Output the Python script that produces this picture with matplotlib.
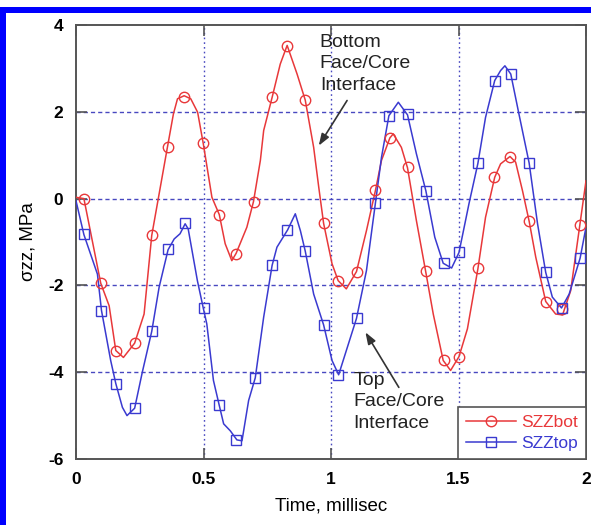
import matplotlib
matplotlib.use("Agg")
import matplotlib.pyplot as plt
from matplotlib.patches import Rectangle

plt.rcParams['font.family'] = ['Liberation Sans', 'DejaVu Sans']

# ---- data ----
# SZZbot curve (time in ms, stress in MPa)
t_bot = [0.000, 0.031, 0.097, 0.130, 0.156, 0.186, 0.230, 0.267, 0.297, 0.326,
         0.359, 0.382, 0.398, 0.424, 0.450, 0.477, 0.499, 0.533, 0.562, 0.585,
         0.611, 0.628, 0.670, 0.696, 0.723, 0.736, 0.769, 0.801, 0.828, 0.867,
         0.899, 0.932, 0.952, 0.971, 1.004, 1.028, 1.060, 1.100, 1.139, 1.174,
         1.198, 1.231, 1.244, 1.276, 1.300, 1.335, 1.371, 1.401, 1.440, 1.469,
         1.502, 1.535, 1.576, 1.606, 1.642, 1.665, 1.702, 1.724, 1.751, 1.777,
         1.803, 1.842, 1.881, 1.908, 1.940, 1.976, 2.000]
s_bot = [0.03, 0.00, -1.95, -2.47, -3.50, -3.66, -3.33, -2.66, -0.85, 0.11,
         1.20, 1.95, 2.30, 2.37, 2.30, 1.99, 1.27, 0.03, -0.37, -1.04,
         -1.43, -1.26, -0.66, -0.07, 0.88, 1.57, 2.33, 3.10, 3.53, 2.87,
         2.27, 1.18, 0.26, -0.57, -1.50, -1.89, -2.08, -1.68, -0.74, 0.18,
         0.88, 1.40, 1.49, 1.18, 0.71, -0.51, -1.67, -2.66, -3.73, -3.96,
         -3.64, -3.00, -1.62, -0.43, 0.49, 0.80, 0.97, 0.84, 0.18, -0.52,
         -1.35, -2.37, -2.66, -2.68, -2.12, -0.60, 0.41]

# SZZtop curve
t_top = [0.000, 0.031, 0.084, 0.100, 0.136, 0.156, 0.182, 0.200, 0.230, 0.260,
         0.297, 0.326, 0.361, 0.385, 0.408, 0.428, 0.440, 0.476, 0.499, 0.513,
         0.539, 0.562, 0.579, 0.605, 0.631, 0.651, 0.677, 0.703, 0.736, 0.769,
         0.788, 0.830, 0.860, 0.880, 0.899, 0.932, 0.971, 1.004, 1.030, 1.100,
         1.139, 1.174, 1.198, 1.227, 1.264, 1.300, 1.335, 1.372, 1.407, 1.440,
         1.473, 1.502, 1.541, 1.576, 1.606, 1.642, 1.665, 1.682, 1.705, 1.737,
         1.777, 1.810, 1.842, 1.868, 1.904, 1.934, 1.977, 2.000]
s_top = [-0.05, -0.83, -1.74, -2.58, -3.73, -4.26, -4.81, -5.00, -4.83, -4.00,
         -3.06, -2.04, -1.18, -0.93, -0.81, -0.58, -0.70, -1.89, -2.52, -2.89,
         -4.19, -4.77, -5.19, -5.35, -5.56, -5.58, -4.65, -4.13, -2.73, -1.54,
         -1.12, -0.72, -0.35, -0.74, -1.21, -2.20, -2.91, -3.73, -4.06, -2.76,
         -1.66, -0.11, 0.95, 1.91, 2.22, 1.93, 1.03, 0.18, -0.89, -1.49,
         -1.60, -1.24, -0.12, 0.81, 1.87, 2.72, 2.95, 3.06, 2.87, 1.95,
         0.82, -0.58, -1.70, -2.27, -2.52, -2.20, -1.37, -0.66]

# marker points
tm_bot = [0.033, 0.097, 0.157, 0.232, 0.297, 0.360, 0.425, 0.499, 0.561, 0.627,
          0.698, 0.770, 0.828, 0.899, 0.971, 1.028, 1.100, 1.174, 1.230, 1.300,
          1.371, 1.442, 1.503, 1.576, 1.641, 1.702, 1.776, 1.842, 1.904, 1.977]
sm_bot = [0.00, -1.95, -3.50, -3.32, -0.85, 1.20, 2.35, 1.27, -0.37, -1.27,
          -0.07, 2.33, 3.52, 2.27, -0.57, -1.89, -1.68, 0.19, 1.40, 0.72,
          -1.66, -3.73, -3.65, -1.61, 0.49, 0.97, -0.52, -2.38, -2.54, -0.60]
tm_top = [0.030, 0.099, 0.157, 0.232, 0.298, 0.361, 0.428, 0.500, 0.560, 0.629,
          0.701, 0.770, 0.829, 0.899, 0.971, 1.029, 1.100, 1.174, 1.228, 1.300,
          1.372, 1.442, 1.503, 1.576, 1.642, 1.704, 1.776, 1.842, 1.904, 1.977]
sm_top = [-0.82, -2.58, -4.27, -4.83, -3.06, -1.17, -0.57, -2.53, -4.76, -5.56,
          -4.14, -1.54, -0.72, -1.21, -2.92, -4.07, -2.76, -0.10, 1.91, 1.94,
          0.18, -1.48, -1.24, 0.82, 2.72, 2.88, 0.82, -1.70, -2.53, -1.37]

x_ticks = [0, 0.5, 1, 1.5, 2]
x_ticklabels = ['0', '0.5', '1', '1.5', '2']
y_ticks = [-6, -4, -2, 0, 2, 4]
y_ticklabels = ['-6', '-4', '-2', '0', '2', '4']

RED = '#e8383a'
BLUE = '#3a3ad0'
GRID = '#4848c0'
SPINE = '#555555'

fig = plt.figure(figsize=(5.91, 5.25), dpi=100)
ax = fig.add_axes([76/591, 1-459/525, (586-76)/591, (459-25)/525])

# blue frame around figure (left and top)
fig.patches.append(Rectangle((0, 0), 6/591, 1-7/525, transform=fig.transFigure,
                             facecolor='#0000ff', edgecolor='none', zorder=0))
fig.patches.append(Rectangle((0, 1-13/525), 1, 6/525, transform=fig.transFigure,
                             facecolor='#0000ff', edgecolor='none', zorder=0))

# grid lines
for gx in [0.5, 1.0, 1.5]:
    ax.axvline(gx, color=GRID, lw=1.0, ls=(0, (1.2, 2.2)), zorder=1)
for gy in [-4, -2, 0, 2]:
    ax.axhline(gy, color=GRID, lw=1.0, ls=(0, (3, 2.2)), zorder=1)

# curves
ax.plot(t_bot, s_bot, color=RED, lw=1.1, zorder=3)
ax.plot(t_top, s_top, color=BLUE, lw=1.1, zorder=3)
ax.plot(tm_bot, sm_bot, ls='none', marker='o', ms=7.5, mfc='none', mec=RED, mew=1.0, zorder=4)
ax.plot(tm_top, sm_top, ls='none', marker='s', ms=7, mfc='none', mec=BLUE, mew=1.0, zorder=4)

# legend handles
h1, = ax.plot([], [], color=RED, lw=1.1, marker='o', ms=7.5, mfc='none', mec=RED, label='SZZbot')
h2, = ax.plot([], [], color=BLUE, lw=1.1, marker='s', ms=7, mfc='none', mec=BLUE, label='SZZtop')
leg = ax.legend(handles=[h1, h2], loc='lower right', bbox_to_anchor=(1, 0),
                borderaxespad=0, fancybox=False, framealpha=1, edgecolor=SPINE,
                fontsize=12.5, handlelength=2.9, handletextpad=0.3,
                labelspacing=0.35, borderpad=0.45, labelcolor='linecolor')
leg.get_frame().set_linewidth(1.2)
leg.set_zorder(5)

ax.set_xlim(0, 2)
ax.set_ylim(-6, 4)
ax.set_xticks(x_ticks)
ax.set_xticklabels(x_ticklabels)
ax.set_yticks(y_ticks)
ax.set_yticklabels(y_ticklabels)
ax.tick_params(direction='in', length=8, width=1.2, color=SPINE,
               top=True, right=True, labelsize=12.5, pad=9)
for lab in ax.get_xticklabels() + ax.get_yticklabels():
    lab.set_fontweight('bold')
for sp in ax.spines.values():
    sp.set_color(SPINE)
    sp.set_linewidth(1.4)

ax.set_xlabel('Time, millisec', fontsize=13.5, labelpad=8)
ax.set_ylabel('σzz, MPa', fontsize=13.5, labelpad=8)

# annotations
ax.text(0.956, 3.80, 'Bottom\nFace/Core\nInterface', fontsize=14, va='top', ha='left',
        linespacing=1.36, color='#222222', zorder=6)
ax.annotate('', xy=(0.952, 1.22), xytext=(1.063, 2.26),
            arrowprops=dict(arrowstyle='-|>,head_length=0.7,head_width=0.25',
                            color='#333333', lw=1.2, shrinkA=0, shrinkB=0))
ax.text(1.087, -3.99, 'Top\nFace/Core\nInterface', fontsize=14, va='top', ha='left',
        linespacing=1.36, color='#222222', zorder=6)
ax.annotate('', xy=(1.135, -3.08), xytext=(1.266, -4.35),
            arrowprops=dict(arrowstyle='-|>,head_length=0.7,head_width=0.25',
                            color='#333333', lw=1.2, shrinkA=0, shrinkB=0))

fig.savefig('out.png', dpi=100)
